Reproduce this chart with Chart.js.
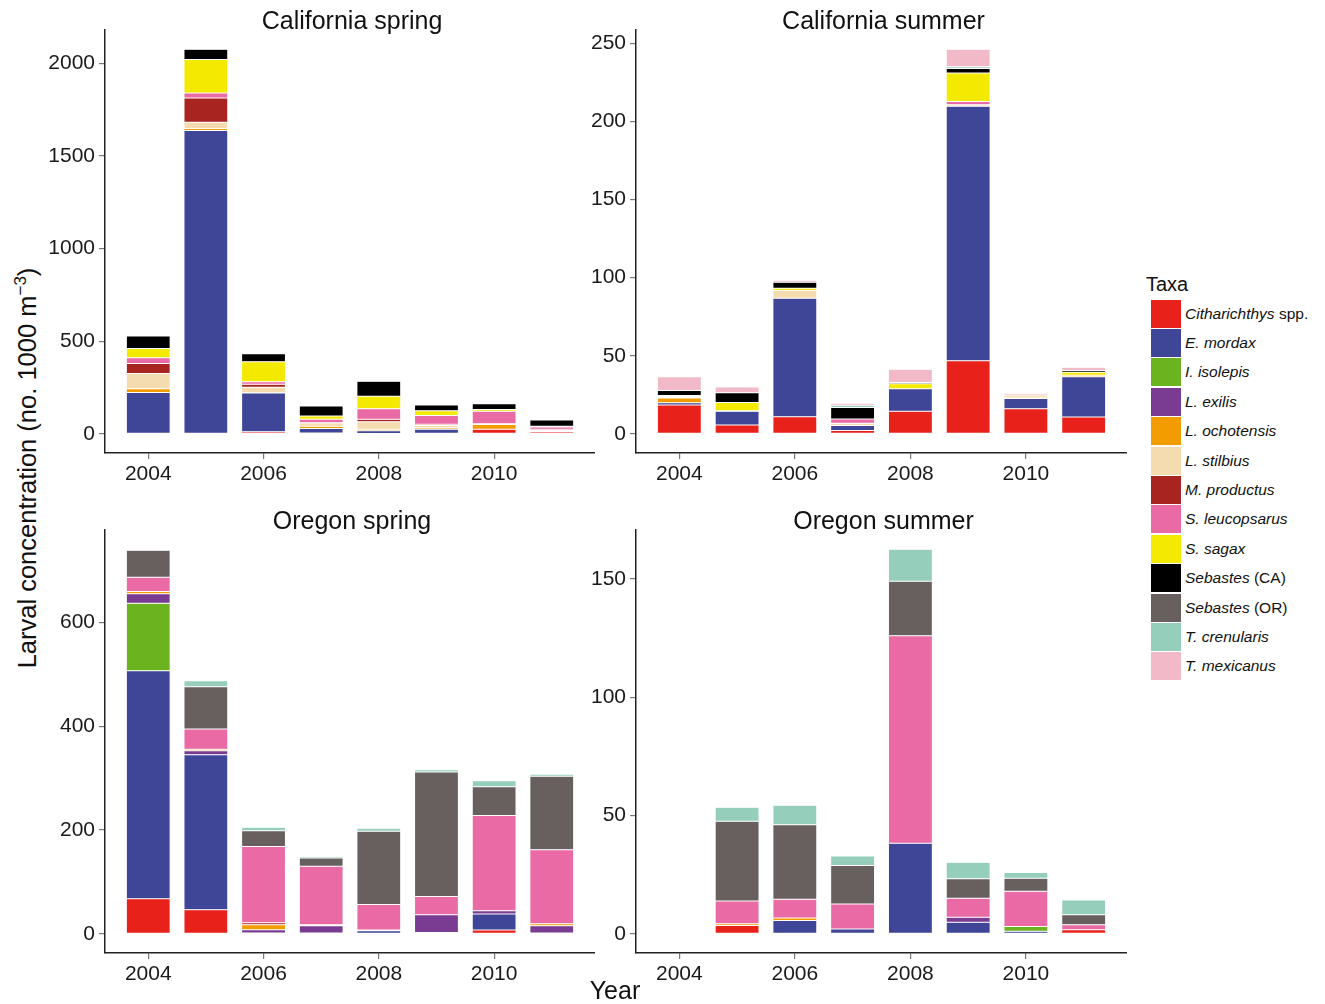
<!DOCTYPE html>
<html>
<head>
<meta charset="utf-8">
<script src="https://cdn.jsdelivr.net/npm/chart.js@4.4.1/dist/chart.umd.min.js"></script>
<style>
  body { margin: 0; background: #fff; width: 1325px; height: 1004px; position: relative; overflow: hidden;
         font-family: "Liberation Sans", Arial, sans-serif; color: #111; }
  canvas { position: absolute; }
  #ytitle { position: absolute; left: 27px; top: 468px; transform: translate(-50%, -50%) rotate(-90deg);
            font-size: 25.5px; white-space: nowrap; }
  #ytitle sup { font-size: 17px; vertical-align: 10px; line-height: 0; }
  #xtitle { position: absolute; left: 615px; top: 990px; transform: translate(-50%, -50%); font-size: 25px; }
  #taxa { position: absolute; left: 1146px; top: 273px; font-size: 20px; }
  .item { position: absolute; left: 1151px; height: 29px; display: flex; align-items: center; font-size: 15.5px; white-space: pre; }
  .item span.cx { width: 30px; height: 28px; margin-right: 4px; display: inline-block; }
</style>
</head>
<body>
<canvas id="c1" width="550" height="493" style="left:45px;top:0px"></canvas>
<canvas id="c2" width="551" height="493" style="left:576px;top:0px"></canvas>
<canvas id="c3" width="550" height="493" style="left:45px;top:500px"></canvas>
<canvas id="c4" width="551" height="493" style="left:576px;top:500px"></canvas>
<div id="ytitle">Larval concentration (no. 1000 m<sup>−3</sup>)</div>
<div id="xtitle">Year</div>
<div id="taxa">Taxa</div>
<div id="legenda"></div>
<script>
const anos = [2004, 2005, 2006, 2007, 2008, 2009, 2010, 2011];
const xTicks = [2004, 2006, 2008, 2010];

const taxa = ['Citharichthys spp.', 'E. mordax', 'I. isolepis', 'L. exilis', 'L. ochotensis',
  'L. stilbius', 'M. productus', 'S. leucopsarus', 'S. sagax', 'Sebastes (CA)',
  'Sebastes (OR)', 'T. crenularis', 'T. mexicanus'];
const cores = ['#E8211A', '#3F4697', '#6BB31F', '#7A3C92', '#F39C00', '#F4DCB0', '#A82420',
  '#E96AA4', '#F4E900', '#000000', '#685F5F', '#95CFBC', '#F2BAC9'];

// uma linha por táxon (mesma ordem de "taxa"), uma coluna por ano
const caSpring = [
  [3, 3, 11, 4, 2, 3, 25, 11],
  [220, 1634, 209, 25, 14, 22, 0, 0],
  [0, 0, 0, 0, 0, 0, 0, 0],
  [0, 0, 2, 0, 0, 0, 0, 0],
  [20, 11, 0, 11, 9, 7, 25, 5],
  [83, 34, 29, 18, 40, 13, 4, 2],
  [54, 131, 16, 2, 14, 7, 0, 7],
  [31, 27, 14, 18, 56, 47, 68, 12],
  [49, 180, 108, 18, 67, 25, 9, 3],
  [68, 56, 43, 54, 81, 31, 31, 34],
  [0, 0, 0, 0, 0, 0, 0, 0],
  [0, 0, 0, 0, 0, 0, 1, 0],
  [0, 0, 0, 0, 0, 0, 0, 0]
];
const caSummer = [
  [18.4, 5.6, 10.9, 2.1, 14.5, 46.8, 16, 10.7],
  [1.5, 8.8, 75.9, 3.2, 14.3, 163, 6.6, 25.9],
  [0, 0, 0, 0, 0, 0, 0, 0],
  [0, 0, 0, 0, 0, 0, 0, 0],
  [3.0, 0.3, 0, 0, 0, 0, 0.8, 0.9],
  [0.6, 0, 4.9, 1.5, 0, 0.9, 1.5, 0],
  [0.5, 0, 0, 0, 0, 0, 0, 0],
  [0.5, 0, 0, 2.6, 0, 2.1, 0, 0],
  [0, 5.3, 1.5, 0, 3.2, 18.2, 0, 1.9],
  [3.2, 6.2, 3.8, 7.5, 0.9, 3.0, 0, 1.1],
  [0, 0, 0, 0, 0, 0, 0, 0],
  [0, 0, 0, 1.3, 0, 1.0, 0, 0],
  [8.8, 3.8, 1.3, 1.3, 8.5, 11.3, 1.0, 2.1]
];
const orSpring = [
  [67.4, 46.2, 1.3, 0, 0, 2.6, 7.1, 0],
  [439.6, 299, 0, 1.3, 5.8, 0, 30.8, 0],
  [130.3, 0, 0, 0, 0, 0, 0, 1.3],
  [18, 7.7, 6.4, 14.1, 1.5, 34, 6.4, 14.1],
  [4.5, 2.6, 9.6, 1.9, 0, 0, 0, 3.9],
  [0, 0, 0, 0, 0, 0, 0, 0],
  [0, 0, 3.9, 0, 0, 0, 0, 0],
  [27.6, 39.1, 147, 113, 49, 35.3, 183.5, 142.5],
  [0, 0, 0, 0, 0, 0, 0, 0],
  [0, 0, 0, 0, 0, 0, 0, 0],
  [52, 81.5, 30.2, 16, 141.2, 240, 55.8, 141.8],
  [1.9, 11.6, 7, 2.6, 5.8, 4.5, 11.6, 3.9],
  [0, 0, 0, 0, 0, 0, 0, 0]
];
const orSummer = [
  [0, 3.5, 0, 0, 0, 0, 0, 1.7],
  [0, 0, 5.6, 2.0, 38.2, 4.9, 1.1, 0],
  [0, 0, 0, 0, 0, 0, 2.0, 0],
  [0, 0, 0, 0, 0, 2.1, 0, 0],
  [0, 0.7, 1.1, 0, 0, 0, 0, 0],
  [0, 0, 0, 0, 0, 0, 0, 0],
  [0, 0, 0, 0, 0, 0, 0, 0],
  [0, 9.7, 7.9, 10.6, 87.7, 8.0, 14.9, 2.1],
  [0, 0, 0, 0, 0, 0, 0, 0],
  [0, 0, 0, 0, 0, 0, 0, 0],
  [0, 33.7, 31.5, 16.2, 23.1, 8.3, 5.5, 4.2],
  [0, 5.9, 8.2, 4.1, 13.5, 6.9, 2.4, 6.3],
  [0, 0, 0, 0, 0, 0, 0, 0]
];

const ticksCaSpring = [0, 500, 1000, 1500, 2000];
const ticksCaSummer = [0, 50, 100, 150, 200, 250];
const ticksOrSpring = [0, 200, 400, 600];
const ticksOrSummer = [0, 50, 100, 150];

const fonte = '"Liberation Sans", Arial, sans-serif';

// título de cada painel centrado sobre a área do gráfico
const tituloPainel = {
  id: 'tituloPainel',
  afterDraw(chart, args, opts) {
    const { ctx, chartArea } = chart;
    ctx.save();
    ctx.font = '25px ' + fonte;
    ctx.fillStyle = '#111';
    ctx.textAlign = 'center';
    ctx.textBaseline = 'alphabetic';
    ctx.fillText(opts.text, (chartArea.left + chartArea.right) / 2 + 2, chartArea.top - 1);
    ctx.restore();
  }
};

function gerarPainel(id, titulo, dados, yTicks) {
  // totais empilhados por ano, para a margem de 5% do eixo y
  const totais = anos.map((a, j) => dados.reduce((s, linha) => s + linha[j], 0));
  const maior = Math.max(...totais);

  const datasets = taxa.map((t, i) => ({
    label: t,
    data: anos.map((a, j) => ({ x: a, y: dados[i][j] })),
    backgroundColor: cores[i],
    borderColor: 'rgba(255,255,255,0.4)',
    borderWidth: 0.5,
    borderSkipped: false,
    categoryPercentage: 1,
    barPercentage: 0.76
  }));

  const ctx = document.getElementById(id).getContext('2d');
  return new Chart(ctx, {
    type: 'bar',
    data: { datasets: datasets },
    options: {
      responsive: false,
      animation: false,
      layout: { padding: { top: 30, left: 0, right: 0, bottom: 0 } },
      plugins: {
        legend: { display: false },
        tooltip: { enabled: false },
        tituloPainel: { text: titulo }
      },
      scales: {
        x: {
          type: 'linear',
          stacked: true,
          offset: false,
          min: 2003.25,
          max: 2011.75,
          afterBuildTicks: s => { s.ticks = xTicks.map(v => ({ value: v })); },
          afterFit: s => { s.height = 40; },
          ticks: {
            callback: v => String(v),
            font: { size: 21, family: fonte },
            color: '#1a1a1a',
            padding: 3,
            maxRotation: 0
          },
          grid: { offset: false, drawOnChartArea: false, tickLength: 6, color: '#777', lineWidth: 1.2 },
          border: { color: '#222', width: 1.5 }
        },
        y: {
          stacked: true,
          min: -0.05 * maior,
          max: 1.05 * maior,
          afterBuildTicks: s => { s.ticks = yTicks.map(v => ({ value: v })); },
          afterFit: s => { s.width = 60; },
          ticks: {
            callback: v => String(v),
            font: { size: 21, family: fonte },
            color: '#1a1a1a',
            padding: 4
          },
          grid: { drawOnChartArea: false, tickLength: 6, color: '#777', lineWidth: 1.2 },
          border: { color: '#222', width: 1.5 }
        }
      }
    },
    plugins: [tituloPainel]
  });
}

gerarPainel('c1', 'California spring', caSpring, ticksCaSpring);
gerarPainel('c2', 'California summer', caSummer, ticksCaSummer);
gerarPainel('c3', 'Oregon spring', orSpring, ticksOrSpring);
gerarPainel('c4', 'Oregon summer', orSummer, ticksOrSummer);

// legenda dos táxons, com o nome científico em itálico
const legenda = document.getElementById('legenda');
taxa.forEach((t, i) => {
  const m = t.match(/^(.*?)( spp\.| \(CA\)| \(OR\))?$/);
  const item = document.createElement('div');
  item.className = 'item';
  item.style.top = (299 + i * 29.4) + 'px';
  item.innerHTML = '<span class="cx" style="background:' + cores[i] + '"></span>' +
    '<i>' + m[1] + '</i>' + (m[2] ? '<span>' + m[2] + '</span>' : '');
  legenda.appendChild(item);
});
</script>
</body>
</html>
